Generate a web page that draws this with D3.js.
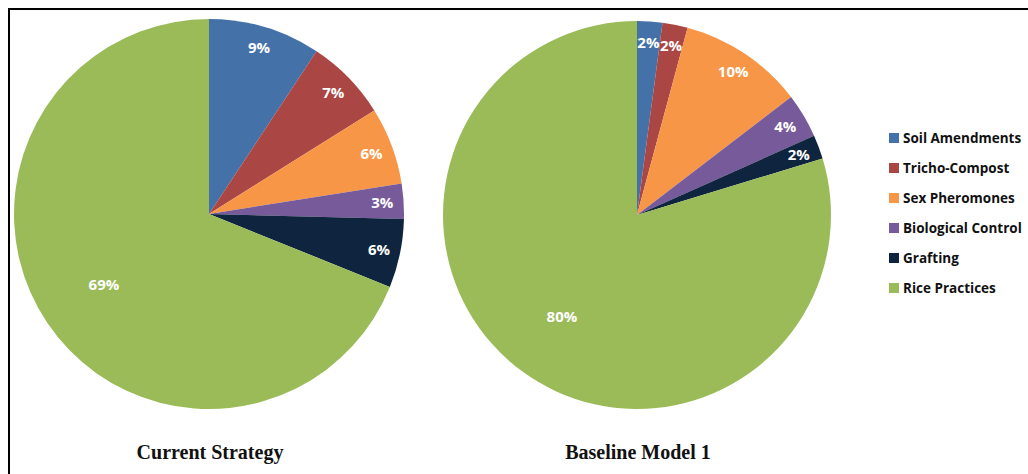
<!DOCTYPE html>
<html><head><meta charset="utf-8">
<script src="https://cdn.jsdelivr.net/npm/d3@7"></script>
<style>body{margin:0;background:#fff;}svg{display:block;}</style>
</head><body>
<svg id="c" width="1028" height="474"></svg>
<script>
const categories = ["Soil Amendments","Tricho-Compost","Sex Pheromones","Biological Control","Grafting","Rice Practices"];
const currentStrategy = [9.3, 6.8, 6.4, 2.9, 5.7, 68.9];
const baselineModel1 = [2.1, 2.1, 10.4, 3.7, 2.0, 79.7];
const chartTitles = ["Current Strategy","Baseline Model 1"];
const colors = ["#4472a8","#aa4643","#f79646","#775a9a","#0f243e","#9bbb59"];

const svg = d3.select("#c");
// frame
svg.append("path").attr("d","M9,474 L9,9 L1028,9").attr("fill","none").attr("stroke","#000").attr("stroke-width",2);

const color = d3.scaleOrdinal().domain(categories).range(colors);
const pie = d3.pie().sort(null).value(d=>d.v);

const charts = [
  {data: currentStrategy, cx: 209, cy: 214, r: 195, title: chartTitles[0]},
  {data: baselineModel1, cx: 637, cy: 215, r: 194, title: chartTitles[1]}
];

charts.forEach(ch => {
  const g = svg.append("g").attr("transform",`translate(${ch.cx},${ch.cy})`);
  const arcs = pie(ch.data.map((v,i)=>({k:categories[i], v})));
  const arc = d3.arc().innerRadius(0).outerRadius(ch.r);
  g.selectAll("path").data(arcs).join("path")
    .attr("d",arc).attr("fill",d=>color(d.data.k));
  g.selectAll("text").data(arcs).join("text")
    .attr("transform",d=>{
      const big = d.data.v > 50;
      const lr = (big ? 0.65 : 0.89) * ch.r;
      const a = (d.startAngle + d.endAngle)/2;
      return `translate(${Math.sin(a)*lr},${-Math.cos(a)*lr})`;
    })
    .attr("text-anchor","middle").attr("dy","0.36em")
    .attr("fill","#fff").attr("font-family","'Open Sans', sans-serif")
    .attr("font-weight","bold").attr("font-size",15)
    .text(d=>Math.round(d.data.v)+"%");
  svg.append("text").attr("x",ch.cx+1).attr("y",459).attr("text-anchor","middle")
    .attr("font-family","'Liberation Serif', 'Times New Roman', serif").attr("font-weight","bold")
    .attr("font-size",20).attr("fill","#111").text(ch.title);
});

const lg = svg.append("g").attr("transform","translate(889,138)");
const ly = d3.scaleBand().domain(categories).range([0, 6*30]).paddingInner(0);
categories.forEach(c => {
  const y = ly(c);
  lg.append("rect").attr("x",0).attr("y",y-5).attr("width",10).attr("height",10).attr("fill",color(c));
  lg.append("text").attr("x",14).attr("y",y).attr("dy","0.35em")
    .attr("font-family","'Open Sans', sans-serif").attr("font-weight","bold").attr("font-size",13.5)
    .attr("fill","#111").text(c);
});
</script>
</body></html>
